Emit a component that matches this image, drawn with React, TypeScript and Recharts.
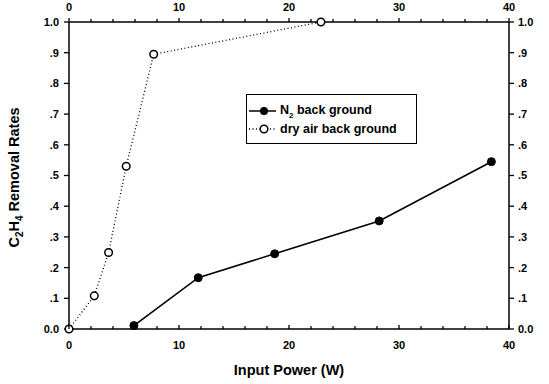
import React from "react";
import { LineChart, Line, XAxis, YAxis } from "recharts";

// N2 background series
const n2Power = [5.9, 11.75, 18.7, 28.2, 38.4];
const n2Removal = [0.011, 0.167, 0.245, 0.352, 0.545];

// dry air background series
const airPower = [0, 2.3, 3.6, 5.2, 7.7, 22.9];
const airRemoval = [0, 0.108, 0.249, 0.53, 0.895, 1.0];

const xTicks = [0, 2, 4, 6, 8, 10, 12, 14, 16, 18, 20, 22, 24, 26, 28, 30, 32, 34, 36, 38, 40];
const yTicks = [0, 0.1, 0.2, 0.3, 0.4, 0.5, 0.6, 0.7, 0.8, 0.9, 1.0];

const n2Data = n2Power.map((x, i) => ({ x, y: n2Removal[i] }));
const airData = airPower.map((x, i) => ({ x, y: airRemoval[i] }));

const FONT = "'Liberation Sans', Arial, sans-serif";

const fmtY = (v: number) => (v === 0 ? "0.0" : v === 1 ? "1.0" : "." + Math.round(v * 10));

// tick marks point up on both x axes (outward on top, inward on bottom)
const XTick = (props: any) => {
  const { x, y, payload, side } = props;
  const v = payload.value;
  const major = v % 10 === 0;
  const len = major ? 4 : 3;
  return (
    <g>
      <line x1={x} x2={x} y1={y} y2={y - len} stroke="#000" strokeWidth={1.3} />
      {major && (
        <text
          x={x}
          y={side === "top" ? y - 11 : y + 20}
          textAnchor="middle"
          fontFamily={FONT}
          fontWeight="bold"
          fontSize={11}
          fill="#000"
        >
          {v}
        </text>
      )}
    </g>
  );
};

const YTitle = (props: any) => {
  const vb = props.viewBox || { x: 0, y: 0, width: 0, height: 0 };
  const cx = 19;
  const cy = vb.y + vb.height / 2 + 2;
  return (
    <text
      x={cx}
      y={cy}
      transform={`rotate(-90, ${cx}, ${cy})`}
      textAnchor="middle"
      fontFamily={FONT}
      fontWeight="bold"
      fontSize={14.5}
      fill="#000"
    >
      <tspan>C</tspan>
      <tspan dy={3.5} fontSize={10}>2</tspan>
      <tspan dy={-3.5}>H</tspan>
      <tspan dy={3.5} fontSize={10}>4</tspan>
      <tspan dy={-3.5}> Removal Rates</tspan>
    </text>
  );
};

const LegendBox = () => (
  <div
    style={{
      position: "absolute",
      left: 246,
      top: 94,
      width: 171,
      height: 50,
      border: "1px solid #000",
      boxSizing: "border-box",
      background: "#fff",
      fontFamily: FONT,
      fontWeight: "bold",
      fontSize: 12.5,
      color: "#000",
      paddingTop: 7,
    }}
  >
    <div style={{ display: "flex", alignItems: "center", height: 18, whiteSpace: "nowrap" }}>
      <svg width={30} height={12} style={{ marginLeft: 1, marginRight: 2 }}>
        <line x1={1} x2={28} y1={6} y2={6} stroke="#000" strokeWidth={1.5} />
        <circle cx={16} cy={6} r={4} fill="#000" />
      </svg>
      <span>
        N<sub style={{ fontSize: 8 }}>2</sub> back ground
      </span>
    </div>
    <div style={{ display: "flex", alignItems: "center", height: 18, whiteSpace: "nowrap" }}>
      <svg width={30} height={12} style={{ marginLeft: 1, marginRight: 2 }}>
        <line x1={1} x2={28} y1={6} y2={6} stroke="#000" strokeWidth={1.3} strokeDasharray="1 2.5" />
        <circle cx={16} cy={6} r={3.8} fill="#fff" stroke="#000" strokeWidth={1.5} />
      </svg>
      <span>dry air back ground</span>
    </div>
  </div>
);

export default function App() {
  return (
    <div style={{ position: "absolute", left: 0, top: 0, width: 549, height: 384, background: "#fff" }}>
      <LineChart width={549} height={384} margin={{ top: 2, right: 0, bottom: 0, left: 0 }}>
        <XAxis
          xAxisId="top"
          orientation="top"
          type="number"
          dataKey="x"
          domain={[0, 40]}
          ticks={xTicks}
          interval={0}
          height={20}
          tickSize={0}
          tickMargin={0}
          tickLine={false}
          axisLine={{ stroke: "#000", strokeWidth: 1.5 }}
          tick={<XTick side="top" />}
        />
        <XAxis
          xAxisId="bottom"
          orientation="bottom"
          type="number"
          dataKey="x"
          domain={[0, 40]}
          ticks={xTicks}
          interval={0}
          height={55}
          tickSize={0}
          tickMargin={0}
          tickLine={false}
          axisLine={{ stroke: "#000", strokeWidth: 1.5 }}
          tick={<XTick side="bottom" />}
          label={{
            value: "Input Power (W)",
            position: "insideBottom",
            offset: 9,
            fill: "#000",
            fontFamily: FONT,
            fontWeight: "bold",
            fontSize: 14.5,
          }}
        />
        <YAxis
          yAxisId="left"
          orientation="left"
          type="number"
          domain={[0, 1]}
          ticks={yTicks}
          interval={0}
          width={69}
          tickSize={5}
          tickMargin={5}
          tickFormatter={fmtY}
          tickLine={{ stroke: "#000", strokeWidth: 1.3 }}
          axisLine={{ stroke: "#000", strokeWidth: 1.5 }}
          tick={{ fill: "#000", fontFamily: FONT, fontWeight: "bold", fontSize: 11 }}
          label={(p: any) => <YTitle {...p} />}
        />
        <YAxis
          yAxisId="right"
          orientation="right"
          type="number"
          domain={[0, 1]}
          ticks={yTicks}
          interval={0}
          width={40}
          tickSize={5}
          tickMargin={4}
          tickFormatter={fmtY}
          tickLine={{ stroke: "#000", strokeWidth: 1.3 }}
          axisLine={{ stroke: "#000", strokeWidth: 1.5 }}
          tick={{ fill: "#000", fontFamily: FONT, fontWeight: "bold", fontSize: 11, textAnchor: "start" }}
        />
        <Line
          data={airData}
          xAxisId="top"
          yAxisId="right"
          dataKey="y"
          type="linear"
          stroke="#000"
          strokeWidth={1.3}
          strokeDasharray="1 2.5"
          dot={{ r: 3.8, fill: "#fff", stroke: "#000", strokeWidth: 1.5, strokeDasharray: "" }}
          isAnimationActive={false}
        />
        <Line
          data={n2Data}
          xAxisId="bottom"
          yAxisId="left"
          dataKey="y"
          type="linear"
          stroke="#000"
          strokeWidth={1.6}
          dot={{ r: 4, fill: "#000", stroke: "#000", strokeWidth: 1 }}
          isAnimationActive={false}
        />
      </LineChart>
      <LegendBox />
    </div>
  );
}
